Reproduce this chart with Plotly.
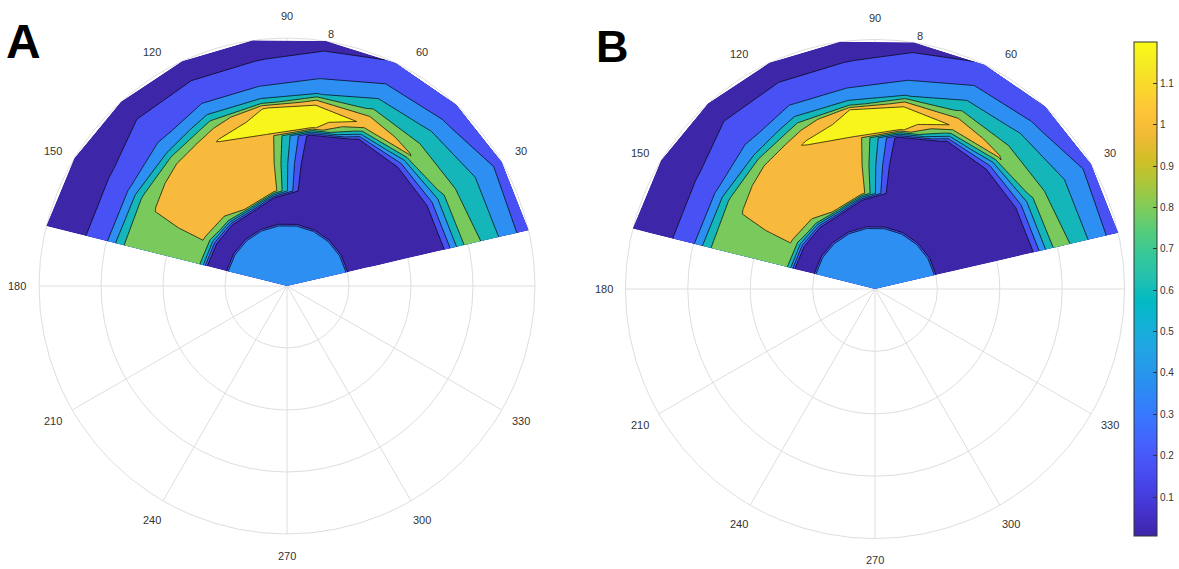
import numpy as np
import plotly.graph_objects as go

# ---------------- data ----------------
theta_deg = [13, 30, 47, 64, 81, 98, 115, 132, 149, 166]
radius = [0, 1.95, 2.05, 2.6, 2.85, 3.1, 4.0, 4.9, 5.2, 5.5, 5.8, 6.0, 6.3, 6.8, 7.4, 8.0]

# values along radius, one list per angle (panel A)
A_t13 = [0.45, 0.42, 0.06, 0.05, 0.05, 0.05, 0.05, 0.05, 0.19, 0.50, 0.76, 0.88, 0.84, 0.67, 0.47, 0.27]
A_t30 = [0.45, 0.42, 0.06, 0.05, 0.05, 0.05, 0.05, 0.06, 0.19, 0.50, 0.76, 0.90, 0.79, 0.66, 0.49, 0.31]
A_t47 = [0.45, 0.42, 0.06, 0.05, 0.05, 0.05, 0.05, 0.07, 0.15, 0.52, 1.01, 0.95, 0.79, 0.61, 0.38, 0.25]
A_t64 = [0.45, 0.42, 0.06, 0.05, 0.05, 0.05, 0.05, 0.04, 0.03, 0.72, 1.18, 1.07, 0.83, 0.56, 0.35, 0.21]
A_t81 = [0.45, 0.42, 0.06, 0.05, 0.05, 0.05, 0.05, 0.10, 1.30, 1.42, 1.29, 1.12, 0.58, 0.39, 0.25, 0.14]
A_t98 = [0.45, 0.42, 0.06, 0.05, 0.09, 1.12, 1.13, 1.19, 1.28, 1.27, 1.19, 0.66, 0.49, 0.27, 0.19, 0.10]
A_t115 = [0.45, 0.42, 0.06, 0.06, 1.05, 1.10, 1.12, 1.16, 1.21, 1.07, 0.88, 0.67, 0.46, 0.31, 0.18, 0.08]
A_t132 = [0.45, 0.42, 0.06, 0.06, 0.85, 1.06, 1.07, 1.08, 1.06, 0.90, 0.59, 0.49, 0.37, 0.28, 0.17, 0.07]
A_t149 = [0.45, 0.42, 0.06, 0.07, 0.75, 1.02, 1.02, 1.01, 0.93, 0.79, 0.52, 0.39, 0.30, 0.18, 0.12, 0.06]
A_t166 = [0.45, 0.42, 0.06, 0.06, 0.78, 0.88, 0.90, 0.90, 0.88, 0.77, 0.52, 0.38, 0.30, 0.17, 0.11, 0.05]

# panel B
B_t13 = [0.45, 0.42, 0.06, 0.05, 0.05, 0.05, 0.05, 0.05, 0.19, 0.50, 0.76, 0.88, 0.84, 0.67, 0.47, 0.27]
B_t30 = [0.45, 0.42, 0.06, 0.05, 0.05, 0.05, 0.05, 0.06, 0.19, 0.50, 0.77, 0.90, 0.79, 0.66, 0.49, 0.31]
B_t47 = [0.45, 0.42, 0.06, 0.05, 0.05, 0.05, 0.05, 0.07, 0.15, 0.52, 1.02, 0.95, 0.79, 0.61, 0.38, 0.25]
B_t64 = [0.45, 0.42, 0.06, 0.05, 0.05, 0.05, 0.05, 0.04, 0.03, 0.72, 1.19, 1.07, 0.83, 0.56, 0.35, 0.21]
B_t81 = [0.45, 0.42, 0.06, 0.05, 0.05, 0.05, 0.05, 0.10, 1.30, 1.43, 1.29, 1.13, 0.58, 0.39, 0.25, 0.14]
B_t98 = [0.45, 0.42, 0.06, 0.05, 0.09, 1.12, 1.13, 1.19, 1.29, 1.28, 1.20, 0.66, 0.49, 0.27, 0.19, 0.10]
B_t115 = [0.45, 0.42, 0.06, 0.06, 1.05, 1.10, 1.12, 1.16, 1.22, 1.07, 0.88, 0.67, 0.46, 0.31, 0.18, 0.08]
B_t132 = [0.45, 0.42, 0.06, 0.06, 0.85, 1.06, 1.07, 1.08, 1.06, 0.90, 0.59, 0.49, 0.37, 0.28, 0.17, 0.07]
B_t149 = [0.45, 0.42, 0.06, 0.07, 0.75, 1.02, 1.02, 1.01, 0.93, 0.79, 0.52, 0.39, 0.30, 0.18, 0.12, 0.06]
B_t166 = [0.45, 0.42, 0.06, 0.06, 0.78, 0.88, 0.90, 0.90, 0.88, 0.77, 0.52, 0.38, 0.30, 0.17, 0.11, 0.05]

values_A = [A_t13, A_t30, A_t47, A_t64, A_t81, A_t98, A_t115, A_t132, A_t149, A_t166]
values_B = [B_t13, B_t30, B_t47, B_t64, B_t81, B_t98, B_t115, B_t132, B_t149, B_t166]

angle_ticks = [30, 60, 90, 120, 150, 180, 210, 240, 270, 300, 330]
ring_values = [2, 4, 6, 8]
cbar_ticks = [0.1, 0.2, 0.3, 0.4, 0.5, 0.6, 0.7, 0.8, 0.9, 1.0, 1.1]
cbar_labels = ["0.1", "0.2", "0.3", "0.4", "0.5", "0.6", "0.7", "0.8", "0.9", "1", "1.1"]

# ---------------- style ----------------
parula_hex = ["#3E26A8", "#4432CB", "#4741E5", "#4852F4", "#4563FD", "#3875FE", "#2E87F7",
              "#2797EB", "#20A5E3", "#12B1D6", "#02BAC3", "#24C1AE", "#37C897", "#57CC7A",
              "#81CC59", "#ABC739", "#D1BF27", "#F0BA36", "#FEC338", "#FAD62D", "#F5E924", "#F9FB15"]
parula_pos = [0, 3, 6, 9, 12, 15, 18, 21, 24, 27, 30, 33, 36, 39, 42, 45, 48, 51, 54, 57, 60, 63]
parula = [[p / 63, c] for p, c in zip(parula_pos, parula_hex)]

band_colors = ["#3E26A8", "#4852F4", "#2C8FF1", "#15B6BA", "#7AC95C", "#F8BA3D", "#F7F51B"]
nb = len(band_colors)
fill_scale = []
for k, c in enumerate(band_colors):
    lo = 0 if k == 0 else (k + 0.5) / nb
    hi = 1 if k == nb - 1 else (k + 1.5) / nb
    fill_scale += [[lo, c], [hi, c]]

W, H = 1179, 569
panels = [
    dict(name="A", vals=values_A, cx=287, cy=286, s=31.0, xa="x", ya="y", px0=0, px1=589.5),
    dict(name="B", vals=values_B, cx=875, cy=289, s=31.2, xa="x2", ya="y2", px0=589.5, px1=W),
]

th = np.deg2rad(np.array(theta_deg, dtype=float))
rr = np.array(radius, dtype=float)
X = rr[:, None] * np.cos(th)[None, :]
Y = rr[:, None] * np.sin(th)[None, :]

fig = go.Figure()
shapes = []
annotations = []
grid_col = "#dedede"
font_fam = "Liberation Sans, Arial, sans-serif"

hidden_axis = dict(showgrid=False, showline=False, showticklabels="none", startline=False,
                   endline=False, smoothing=0, minorgridcount=0, gridcolor="rgba(0,0,0,0)",
                   linecolor="rgba(0,0,0,0)")

for i, p in enumerate(panels):
    Z = np.array(p["vals"]).T  # rows: radius, cols: angle
    cid = "carpet" + p["name"]
    fig.add_trace(go.Carpet(
        a=theta_deg, b=radius, x=X, y=Y, carpet=cid, xaxis=p["xa"], yaxis=p["ya"],
        aaxis=hidden_axis, baxis=hidden_axis,
    ))
    fig.add_trace(go.Contourcarpet(
        a=theta_deg, b=radius, z=Z, carpet=cid, xaxis=p["xa"], yaxis=p["ya"],
        autocontour=False,
        contours=dict(start=0, end=1.2, size=0.2, coloring="fill", showlines=True),
        line=dict(color="black", width=0.7, smoothing=0),
        colorscale=fill_scale, showscale=False,
    ))

    xref, yref = p["xa"], p["ya"]
    for rv in ring_values:
        shapes.append(dict(type="circle", xref=xref, yref=yref, x0=-rv, x1=rv, y0=-rv, y1=rv,
                           line=dict(color=grid_col, width=1), layer="below"))
    for ang in [0] + angle_ticks:
        a = np.deg2rad(ang)
        shapes.append(dict(type="line", xref=xref, yref=yref, x0=0, y0=0,
                           x1=8 * np.cos(a), y1=8 * np.sin(a),
                           line=dict(color=grid_col, width=1), layer="below"))
    for ang in angle_ticks:
        a = np.deg2rad(ang)
        annotations.append(dict(x=8.7 * np.cos(a), y=8.7 * np.sin(a), xref=xref, yref=yref,
                                text=str(ang), showarrow=False, xanchor="center", yanchor="middle",
                                font=dict(size=11, color="#333333", family=font_fam)))
    a = np.deg2rad(80)
    annotations.append(dict(x=8.25 * np.cos(a), y=8.25 * np.sin(a), xref=xref, yref=yref,
                            text="8", showarrow=False, xanchor="center", yanchor="middle",
                            font=dict(size=11, color="#333333", family=font_fam)))

    s, cx, cy = p["s"], p["cx"], p["cy"]
    xr = [(p["px0"] - cx) / s, (p["px1"] - cx) / s]
    yr = [-(H - cy) / s, cy / s]
    ax = dict(range=xr, domain=[p["px0"] / W, p["px1"] / W], visible=False, showgrid=False,
              zeroline=False, fixedrange=True)
    ay = dict(range=yr, domain=[0, 1], visible=False, showgrid=False, zeroline=False,
              fixedrange=True)
    if i == 0:
        fig.update_layout(xaxis=ax, yaxis=dict(ay, anchor="x"))
    else:
        fig.update_layout(xaxis2=dict(ax, anchor="y2"), yaxis2=dict(ay, anchor="x2"))

annotations.append(dict(x=23 / W, y=1 - 41 / H, xref="paper", yref="paper", text="<b>A</b>",
                        showarrow=False, xanchor="center", yanchor="middle",
                        font=dict(size=48, color="black", family=font_fam)))
annotations.append(dict(x=612 / W, y=1 - 47 / H, xref="paper", yref="paper", text="<b>B</b>",
                        showarrow=False, xanchor="center", yanchor="middle",
                        font=dict(size=45, color="black", family=font_fam)))

fig.add_trace(go.Scatter(
    x=[None], y=[None], mode="markers", xaxis="x2", yaxis="y2", showlegend=False,
    hoverinfo="skip",
    marker=dict(color=[0.5], cmin=0.006, cmax=1.2, colorscale=parula, showscale=True,
                colorbar=dict(x=1134 / W, xanchor="left", y=1 - 289 / H, yanchor="middle",
                              len=494, lenmode="pixels", thickness=23, thicknessmode="pixels",
                              outlinecolor="#333333", outlinewidth=1, xpad=0, ypad=0,
                              tickvals=cbar_ticks, ticktext=cbar_labels, ticks="inside",
                              ticklen=4, tickcolor="#333333",
                              tickfont=dict(size=10, color="#333333", family=font_fam))),
))

fig.update_layout(width=W, height=H, margin=dict(l=0, r=0, t=0, b=0),
                  paper_bgcolor="white", plot_bgcolor="white", showlegend=False,
                  shapes=shapes, annotations=annotations)

fig.write_html("out.html", config={"displayModeBar": False},
               post_script="document.body.style.margin='0';document.body.style.overflow='hidden';")
